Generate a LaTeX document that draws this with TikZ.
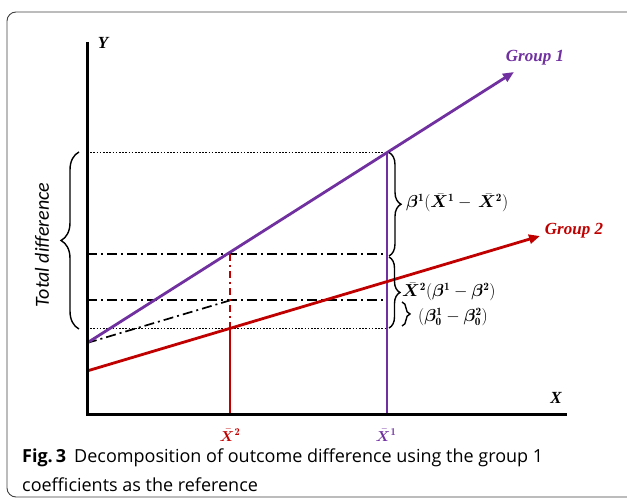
\documentclass[tikz,border=0pt]{standalone}
\usepackage{amsmath,bm}
\usepackage{fontspec}
\newfontfamily\capfont{Open Sans}
\newfontfamily\tdfont{Carlito}
\newfontfamily\lblfont{Liberation Serif}
\usetikzlibrary{decorations.pathreplacing,arrows.meta}
\definecolor{gpurple}{HTML}{7030A0}
\definecolor{gred}{HTML}{C00000}
\tikzset{
  axisline/.style={line width=3pt, line join=miter},
  grpline/.style={line width=2.8pt, -{Triangle[length=11pt,width=9pt]}},
  dotline/.style={line width=1.8pt, dash pattern=on 1.5pt off 1.7pt},
  dashdotline/.style={line width=1.7pt, dash pattern=on 10pt off 4pt on 2pt off 4pt},
  thinv/.style={line width=1.2pt},
  bracestyle/.style={decorate, line width=1.4pt, decoration={brace, amplitude=#1}},
  lbl/.style={inner sep=0pt, font=\lblfont\bfseries\itshape\fontsize{17}{19}\selectfont},
  mlbl/.style={inner sep=0pt, anchor=west, font=\fontsize{16}{18}\selectfont},
}
\begin{document}
\begin{tikzpicture}[x=1pt,y=-1pt]
\useasboundingbox (0,0) rectangle (627,502);
\begin{scope}
\clip (0,0) rectangle (627,502);
\draw[rounded corners=9pt, line width=0.9pt, black!75] (7,12) rectangle (640,497);
\end{scope}
% coordinates
\coordinate (ytop) at (87,42);
\coordinate (xend) at (567,415);
\coordinate (g1s) at (87,343);
\coordinate (g1e) at (514,72);
\coordinate (g2s) at (87,371);
\coordinate (g2e) at (540,236);
\coordinate (lt) at (87,152.5);
\coordinate (rt) at (387,152.5);
\coordinate (la) at (87,254);
\coordinate (ra) at (387,254);
\coordinate (lb) at (87,300);
\coordinate (rb) at (387,300);
\coordinate (lc) at (87,328.5);
\coordinate (rc) at (387,328.5);
\coordinate (x2top) at (230,254);
\coordinate (x2mid) at (230,328.5);
\coordinate (x2bot) at (230,415);
\coordinate (x1bot) at (387,415);
\coordinate (cf) at (230,300.4);
% horizontal guides
\draw[dotline] (lt) -- (rt);
\draw[dotline] (lc) -- (rc);
\draw[dashdotline] (la) -- (ra);
\draw[dashdotline] (lb) -- (rb);
\draw[dashdotline] (g1s) -- (cf);
% verticals
\draw[thinv, gpurple] (rt) -- (x1bot);
\draw[gred, dash pattern=on 7pt off 4pt on 2pt off 4pt, line width=1.8pt] (x2top) -- (x2mid);
\draw[thinv, gred] (x2mid) -- (x2bot);
% group lines
\draw[grpline, gred] (g2s) -- (g2e);
\draw[grpline, gpurple] (g1s) -- (g1e);
% axes
\draw[axisline] (ytop) -- (87,415) -- (xend);
% labels
\node[lbl] (ylab) at (103,43) {Y};
\node[lbl] (xlab) at (556,398) {X};
\node[lbl, text=gpurple] (g1lab) at (535,58) {Group 1};
\node[lbl, text=gred] (g2lab) at (574,231) {Group 2};
\node[inner sep=0pt, text=gred, font=\fontsize{15}{17}\selectfont] (x2lab) at (230,435) {$\bar{\bm X}^{\mathbf 2}$};
\node[inner sep=0pt, text=gpurple, font=\fontsize{15}{17}\selectfont] (x1lab) at (386,435) {$\bar{\bm X}^{\mathbf 1}$};
% braces
\draw[bracestyle=18pt] (79,329) -- (79,152) coordinate[midway] (bl);
\node[inner sep=0pt, rotate=90, font=\tdfont\itshape\fontsize{20}{22}\selectfont] (td) at (42,245) {Total difference};
\draw[bracestyle=12pt] (389,152.5) -- (389,256) coordinate[midway] (b1);
\draw[bracestyle=11pt] (389,257) -- (389,328) coordinate[midway] (b2);
\draw[bracestyle=8pt] (402,302) -- (402,326) coordinate[midway] (b3);
\node[mlbl] (m1) at (406,203) {$\bm{\beta}^{\mathbf 1}(\bar{\bm X}^{\mathbf 1}-\,\bar{\bm X}^{\mathbf 2})$};
\node[mlbl] (m2) at (402,292) {$\bar{\bm X}^{\mathbf 2}(\bm{\beta}^{\mathbf 1}-\bm{\beta}^{\mathbf 2})$};
\node[mlbl] (m3) at (418,317) {$\left(\bm{\beta}_{\mathbf 0}^{\mathbf 1}-\bm{\beta}_{\mathbf 0}^{\mathbf 2}\right)$};
% caption
\node[anchor=west, inner sep=0pt, font=\capfont\fontsize{18}{20}\selectfont] (cap1) at (22,458) {\textbf{Fig.\,3}\hspace{0.45em}Decomposition of outcome difference using the group 1};
\node[anchor=west, inner sep=0pt, font=\capfont\fontsize{18}{20}\selectfont] (cap2) at (22,485) {coefficients as the reference};
\end{tikzpicture}
\end{document}
